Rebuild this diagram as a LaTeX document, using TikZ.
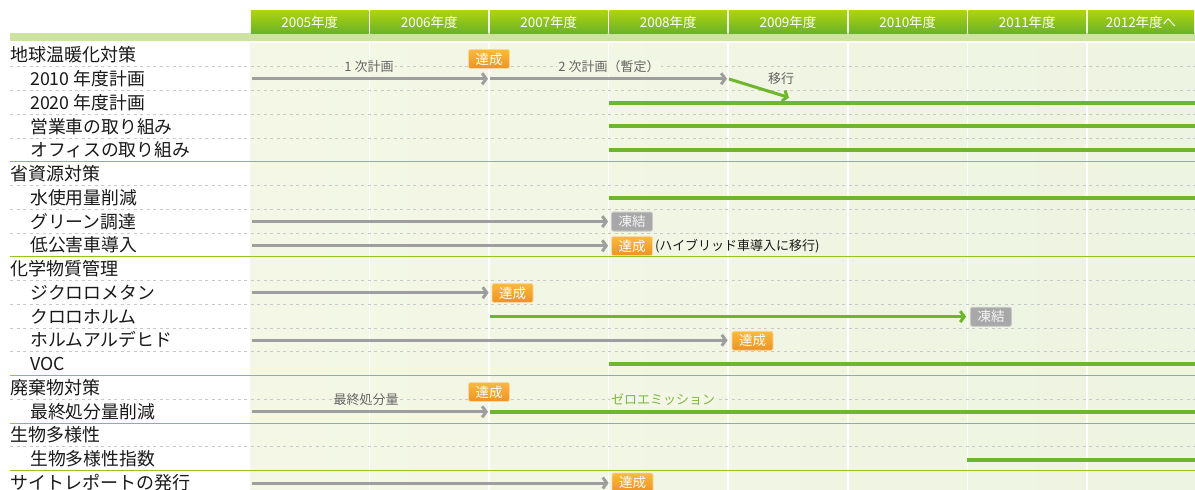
\documentclass[tikz,border=0pt]{standalone}
\usepackage{fontspec}
\setmainfont{Noto Sans CJK JP}
\usetikzlibrary{arrows.meta}
\definecolor{hdrtop}{RGB}{176,213,12}
\definecolor{hdrbot}{RGB}{106,178,42}
\definecolor{lightbar}{RGB}{206,227,162}
\definecolor{bgL}{RGB}{244,247,229}
\definecolor{bgR}{RGB}{238,244,226}
\definecolor{sepgreen}{RGB}{150,196,30}
\definecolor{dashgray}{RGB}{200,200,200}
\definecolor{bargray}{RGB}{158,158,158}
\definecolor{bargreen}{RGB}{110,182,46}
\definecolor{orgtop}{RGB}{249,186,62}
\definecolor{orgbot}{RGB}{238,146,36}
\definecolor{frzgray}{RGB}{168,168,168}
\definecolor{annogray}{RGB}{100,100,100}
\definecolor{zerogreen}{RGB}{122,184,64}
\definecolor{txt}{RGB}{25,25,25}
\begin{document}
\begin{tikzpicture}[x=1pt,y=-1pt,
  headlbl/.style={anchor=base west,inner sep=0pt,text=txt,font=\fontsize{18}{20}\selectfont},
  sublbl/.style={anchor=base west,inner sep=0pt,text=txt,font=\fontsize{17.8}{20}\selectfont},
  hdrtxt/.style={text=white,font=\fontsize{13.5}{15}\selectfont,inner sep=0pt},
  anno/.style={text=annogray,font=\fontsize{13}{15}\selectfont,fill=bgL,inner sep=1pt},
  okbadge/.style={top color=orgtop,bottom color=orgbot,draw={rgb,255:red,250;green,214;blue,160},line width=0.8pt,
     rounded corners=2pt,minimum width=41pt,minimum height=19pt,inner sep=0pt,text=white,font=\fontsize{13.5}{15}\selectfont},
  frzbadge/.style={fill=frzgray,draw={rgb,255:red,200;green,200;blue,200},line width=0.8pt,
     rounded corners=2pt,minimum width=41pt,minimum height=19pt,inner sep=0pt,text=white!92!gray,font=\fontsize{13.5}{15}\selectfont},
  garrow/.style={draw=bargray,line width=3pt,-{Straight Barb[length=4pt,width=11pt]}},
  grarrow/.style={draw=bargreen,line width=3pt,-{Straight Barb[length=4pt,width=11pt]}},
  gbar/.style={draw=bargreen,line width=4pt},
  dashsep/.style={draw=dashgray,line width=1pt,dash pattern=on 3pt off 3.5pt},
  greensep/.style={draw=sepgreen,line width=1.1pt},
  colline/.style={draw=white,line width=1.8pt}
]
\useasboundingbox (0,0) rectangle (1195,490);
\fill[white] (0,0) rectangle (1195,490);
% background
\shade[left color=bgL,right color=bgR] (250,43) rectangle (1195,490);
\fill[lightbar] (10,33.3) rectangle (1195,40.7);
% header
\foreach \a/\b/\t/\n in {250/369.5/2005年度/h1,369.5/489/2006年度/h2,489/608.5/2007年度/h3,608.5/728/2008年度/h4,728/848/2009年度/h5,848/967.5/2010年度/h6,967.5/1087/2011年度/h7,1087/1195/2012年度へ/h8}{
  \shade[top color=hdrtop,bottom color=hdrbot] (\a+0.8,10) rectangle (\b-0.8,33.3);
  \node[hdrtxt] (\n) at ({(\a+\b)/2},22) {\t};
}
% column lines
\foreach \x in {369.5,489,608.5,728,848,967.5,1087}{
  \draw[colline] (\x,43) -- (\x,490);
}
% separators
\foreach \i in {1,2,3,4,6,7,8,10,11,12,13,15,17}{
  \draw[dashsep] (10,{55+23.75*\i-11.875}) -- (1195,{55+23.75*\i-11.875});
}
\foreach \i in {5,9,14,16,18}{
  \draw[greensep] (10,{55+23.75*\i-11.875}) -- (1195,{55+23.75*\i-11.875});
}
% labels
\node[headlbl] (l0) at (10,61.8) {地球温暖化対策};
\node[sublbl] (l1) at (30,85.5) {2010 年度計画};
\node[sublbl] (l2) at (30,109.3) {2020 年度計画};
\node[sublbl] (l3) at (30,133) {営業車の取り組み};
\node[sublbl] (l4) at (30,156.8) {オフィスの取り組み};
\node[headlbl] (l5) at (10,180.5) {省資源対策};
\node[sublbl] (l6) at (30,204.3) {水使用量削減};
\node[sublbl] (l7) at (30,228) {グリーン調達};
\node[sublbl] (l8) at (30,251.8) {低公害車導入};
\node[headlbl] (l9) at (10,275.5) {化学物質管理};
\node[sublbl] (l10) at (30,299.3) {ジクロロメタン};
\node[sublbl] (l11) at (30,323) {クロロホルム};
\node[sublbl] (l12) at (30,346.8) {ホルムアルデヒド};
\node[sublbl] (l13) at (30,370.5) {VOC};
\node[headlbl] (l14) at (10,394.3) {廃棄物対策};
\node[sublbl] (l15) at (30,418) {最終処分量削減};
\node[headlbl] (l16) at (10,441.8) {生物多様性};
\node[sublbl] (l17) at (30,465.5) {生物多様性指数};
\node[headlbl] (l18) at (10,489.3) {サイトレポートの発行};
% coordinates
\coordinate (a1) at (252,78.75);
\coordinate (a2) at (488,78.75);
\coordinate (a3) at (490,78.75);
\coordinate (a4) at (727,78.75);
\coordinate (a5) at (729,79);
\coordinate (a6) at (789,97.5);
\coordinate (b2s) at (609,102.6);
\coordinate (b2e) at (1195,102.6);
\coordinate (b3s) at (609,126.3);
\coordinate (b3e) at (1195,126.3);
\coordinate (b4s) at (609,150.3);
\coordinate (b4e) at (1195,150.3);
\coordinate (b6s) at (609,197.8);
\coordinate (b6e) at (1195,197.8);
\coordinate (b7s) at (252,221.6);
\coordinate (b8s) at (252,245.8);
\coordinate (b10s) at (252,292.7);
\coordinate (b11s) at (490,316.6);
\coordinate (b12s) at (252,340.3);
\coordinate (b13s) at (609,363.6);
\coordinate (b13e) at (1195,363.6);
\coordinate (b15s) at (252,411.8);
\coordinate (b15m) at (488,411.8);
\coordinate (b15n) at (490,411.8);
\coordinate (b15e) at (1195,411.8);
\coordinate (b17s) at (967,459.6);
\coordinate (b17e) at (1195,459.6);
\coordinate (b18s) at (252,483);
% badges
\node[okbadge] (ok1) at (489,59) {達成};
\node[frzbadge] (fz1) at (632,221.6) {凍結};
\node[okbadge] (ok2) at (632,246) {達成};
\node[okbadge] (ok3) at (512.5,293) {達成};
\node[frzbadge] (fz2) at (991,316.8) {凍結};
\node[okbadge] (ok4) at (752.5,340.8) {達成};
\node[okbadge] (ok5) at (489,392) {達成};
\node[okbadge] (ok6) at (632.5,482.5) {達成};
% bars
\draw[garrow] (a1) -- (a2);
\draw[garrow] (a3) -- (a4);
\draw[grarrow] (a5) -- (a6);
\draw[gbar] (b2s) -- (b2e);
\draw[gbar] (b3s) -- (b3e);
\draw[gbar] (b4s) -- (b4e);
\draw[gbar] (b6s) -- (b6e);
\draw[garrow,shorten >=3pt] (b7s) -- (fz1.west);
\draw[garrow,shorten >=3pt] (b8s) -- (ok2.west |- b8s);
\draw[garrow,shorten >=3pt] (b10s) -- (ok3.west |- b10s);
\draw[grarrow,shorten >=4pt] (b11s) -- (fz2.west |- b11s);
\draw[garrow,shorten >=4pt] (b12s) -- (ok4.west |- b12s);
\draw[gbar] (b13s) -- (b13e);
\draw[garrow] (b15s) -- (b15m);
\draw[gbar] (b15n) -- (b15e);
\draw[gbar] (b17s) -- (b17e);
\draw[garrow,shorten >=3pt] (b18s) -- (ok6.west |- b18s);
% annotations
\node[anno] (t1) at (369,67) {1 次計画};
\node[anno] (t2) at (609,67) {2 次計画（暫定）};
\node[text=annogray,font=\fontsize{13}{15}\selectfont,inner sep=0pt] (t3) at (781,78.5) {移行};
\node[anno] (t4) at (366,400) {最終処分量};
\node[anno,text=zerogreen] (t5) at (663,400) {ゼロエミッション};
\node[anchor=west,inner sep=0pt,text=txt,font=\fontsize{13}{15}\selectfont] (t6) at ([xshift=2pt]ok2.east) {(ハイブリッド車導入に移行)};
\end{tikzpicture}
\end{document}
